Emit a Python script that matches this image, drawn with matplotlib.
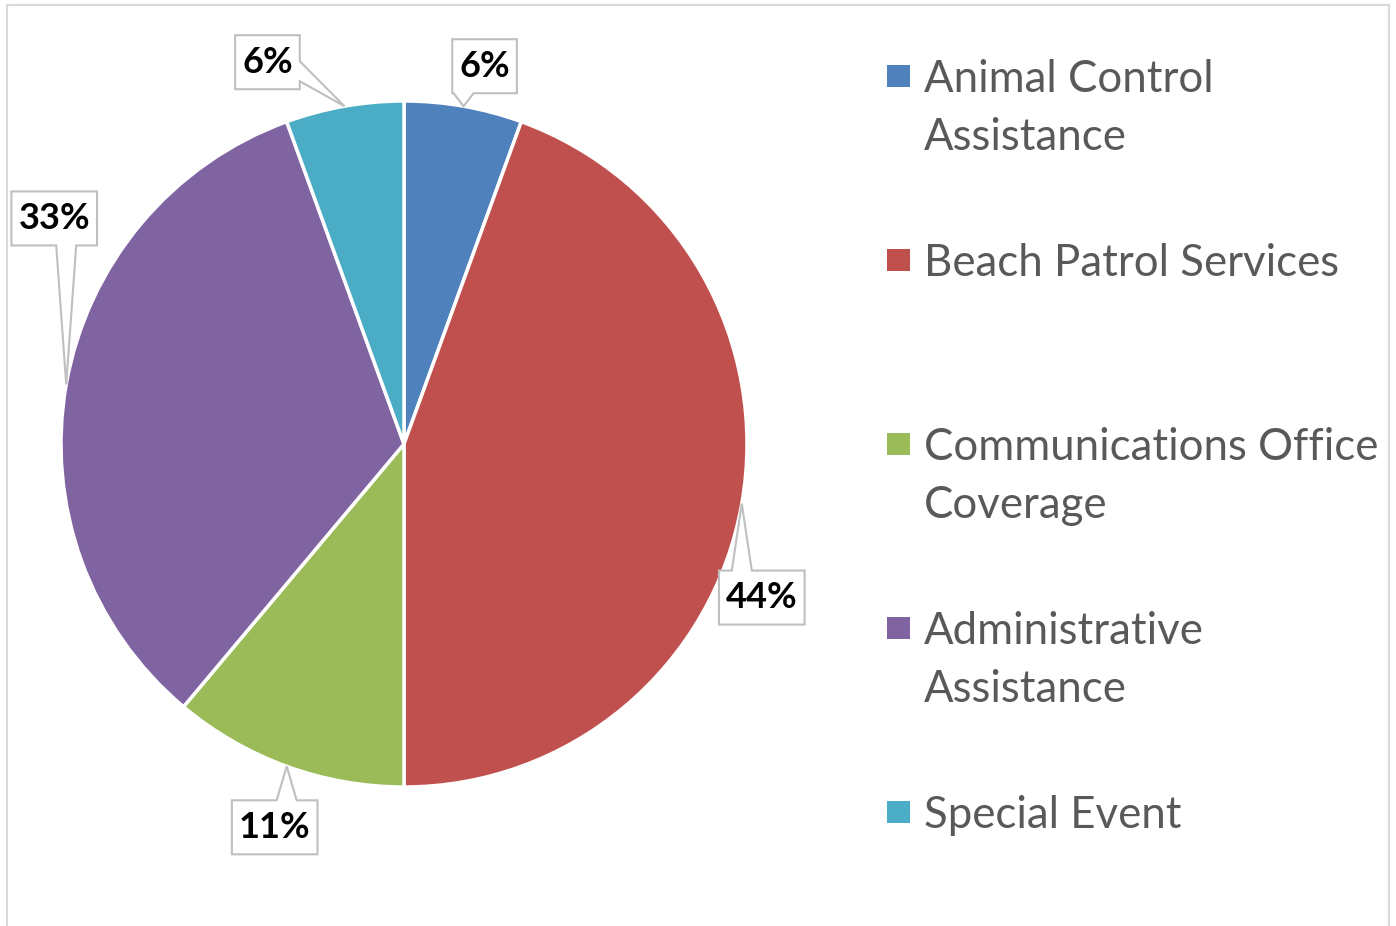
import matplotlib
matplotlib.use("Agg")
import matplotlib.pyplot as plt
from matplotlib.patches import Polygon, Rectangle
import numpy as np
import textwrap

# ---------------- data ----------------
categories = ["Animal Control Assistance", "Beach Patrol Services",
              "Communications Office Coverage", "Administrative Assistance",
              "Special Event"]
counts = [1, 8, 2, 6, 1]
colors = ["#4F81BD", "#C0504D", "#9BBB59", "#8064A2", "#4BACC6"]

# label box offsets from slice edge point (screen px, y down) -- layout only
label_offsets = [(21, -40), (20, 94), (-12, 61), (-12, -166), (-77, -44)]

W, H = 1396, 926
fig = plt.figure(figsize=(W / 100, H / 100), dpi=100)
ax = fig.add_axes([0, 0, 1, 1])

cx, cy, R = 404, H - 444, 343
wedges, _ = ax.pie(counts, colors=colors, startangle=90, counterclock=False,
                   center=(cx, cy), radius=R,
                   wedgeprops=dict(edgecolor="white", linewidth=2.5))
ax.set_xlim(0, W)
ax.set_ylim(0, H)
ax.set_aspect("equal")
ax.axis("off")

# outer frame
ax.add_patch(Rectangle((7, -20), 1382, H - 5 + 20, fill=False,
                       edgecolor="#D9D9D9", linewidth=1.5, clip_on=False, zorder=1))

total = sum(counts)
label_font = dict(family="Lato", fontsize=26, fontweight="bold", color="black")
texts = []
tips = []
for w, c, (ox, oy) in zip(wedges, counts, label_offsets):
    mid = np.deg2rad((w.theta1 + w.theta2) / 2)
    tx, ty = cx + R * np.cos(mid), cy + R * np.sin(mid)
    tips.append((tx, ty))
    t = ax.text(tx + ox, ty - oy, f"{round(100 * c / total)}%", ha="center",
                va="center", zorder=6, **label_font)
    texts.append(t)

fig.canvas.draw()
renderer = fig.canvas.get_renderer()
inv = ax.transData.inverted()
box_h = 54
for t, (tx, ty) in zip(texts, tips):
    ext = t.get_window_extent(renderer)
    (x0, y0), (x1, y1) = inv.transform([[ext.x0, ext.y0], [ext.x1, ext.y1]])
    xc, yc = t.get_position()
    l, r = x0 - 7, x1 + 7
    b, tp = yc - box_h / 2, yc + box_h / 2
    dx_out = max(l - tx, tx - r, 0)
    dy_out = max(b - ty, ty - tp, 0)
    hw = 10
    if dy_out >= dx_out:
        a = min(max(tx, l + hw), r - hw)
        if ty < b:   # bottom
            verts = [(l, b), (a - hw, b), (tx, ty), (a + hw, b), (r, b), (r, tp), (l, tp)]
        else:        # top
            verts = [(l, b), (r, b), (r, tp), (a + hw, tp), (tx, ty), (a - hw, tp), (l, tp)]
    else:
        a = min(max(ty, b + hw + 8), tp - hw)
        if tx > r:   # right
            verts = [(l, b), (r, b), (r, a - hw), (tx, ty), (r, a + hw), (r, tp), (l, tp)]
        else:        # left
            verts = [(l, b), (r, b), (r, tp), (l, tp), (l, a + hw), (tx, ty), (l, a - hw)]
    ax.add_patch(Polygon(verts, closed=True, facecolor="white", edgecolor="#BFBFBF",
                         linewidth=1.5, zorder=5, joinstyle="miter"))

# legend (manual)
leg_x, leg_y0, leg_step, line_h = 887, 76, 184, 58
for i, (cat, col) in enumerate(zip(categories, colors)):
    ysq = leg_y0 + i * leg_step
    ax.add_patch(Rectangle((leg_x, H - ysq - 11), 23, 22, facecolor=col,
                           edgecolor="none", zorder=3))
    for k, line in enumerate(textwrap.wrap(cat, 21)):
        ax.text(924, H - (ysq + 16 + k * line_h), line, ha="left", va="baseline",
                family="Lato", fontsize=31.5, color="#595959")

fig.savefig("out.png", dpi=100)
